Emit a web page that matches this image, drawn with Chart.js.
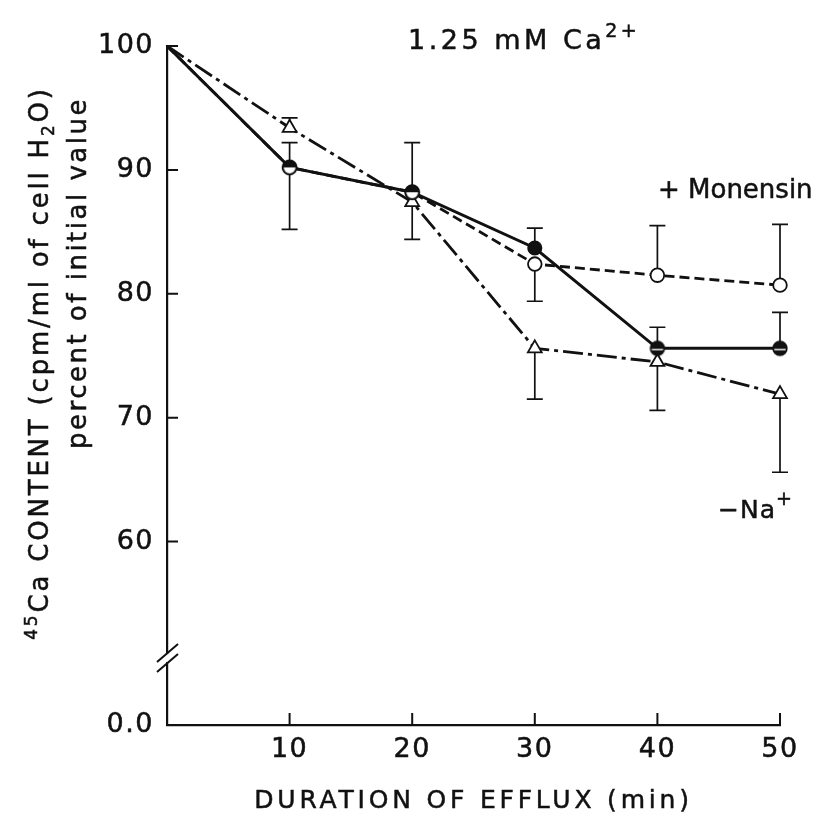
<!DOCTYPE html>
<html lang="en">
<head>
<meta charset="UTF-8">
<title>45Ca efflux</title>
<script src="https://cdn.jsdelivr.net/npm/chart.js"></script>
<style>
  html, body { margin: 0; padding: 0; background: #fff; }
</style>
</head>
<body>
<canvas id="effluxChart" width="835" height="820"></canvas>
<script>
// time of efflux (min)
const minutes = [0, 10, 20, 30, 40, 50];
// 45Ca content, percent of initial value
const control  = [100, 90.2, 88.2, 83.7, 75.6, 75.6];
const monensin = [100, 90.2, 88.2, 82.4, 81.5, 80.7];
const noSodium = [100, 93.4, 87.4, 75.6, 74.5, 71.9];
// error bar ends (null = no bar on that side)
const controlHigh  = [null, 92.2, 92.2, 85.3, 77.3, 78.5];
const controlLow   = [null, 85.2, null, null, null, null];
const monensinHigh = [null, null, null, null, 85.5, 85.6];
const monensinLow  = [null, null, null, 79.4, null, null];
const noSodiumHigh = [null, 94.2, null, null, null, null];
const noSodiumLow  = [null, null, 84.4, 71.5, 70.6, 65.6];
// axis ticks
const xTicks = [10, 20, 30, 40, 50];
const yTicks = [60, 70, 80, 90, 100];
const yBroken = 45.2;   // foot of the broken axis, labelled 0.0
const yBreakAt = 50.6;  // where the // marks sit

const INK = '#111';
const FONT = 'DejaVu Sans';

// circle markers: half = open + filled overlapping, split = filled with a thin light band
function marker(kind) {
    const c = document.createElement('canvas');
    c.width = 18; c.height = 18;
    const g = c.getContext('2d');
    const r = 6.8;
    g.translate(9, 9);
    g.beginPath(); g.arc(0, 0, r, 0, Math.PI * 2);
    g.fillStyle = kind === 'half' ? '#fff' : INK; g.fill();
    if (kind === 'half') {
        g.beginPath(); g.arc(0, 0, r, Math.PI, 0); g.closePath();
        g.fillStyle = INK; g.fill();
    }
    if (kind === 'split') { g.fillStyle = '#fff'; g.fillRect(-r, 0.6, 2 * r, 1.4); }
    g.beginPath(); g.arc(0, 0, r, 0, Math.PI * 2);
    g.lineWidth = 1.8; g.strokeStyle = INK; g.stroke();
    return c;
}
const half = marker('half');
const split = marker('split');

const pts = arr => minutes.map((m, i) => ({ x: m, y: arr[i] }));

// draw pieces of text (for super/subscripts) starting at x on a baseline
function drawParts(ctx, parts, x, y, spacing) {
    ctx.letterSpacing = spacing + 'px';
    ctx.lineWidth = 0.5;
    let cx = x;
    parts.forEach(p => {
        ctx.font = p.size + 'px "' + FONT + '"';
        ctx.fillText(p.text, cx, y + (p.dy || 0));
        ctx.strokeText(p.text, cx, y + (p.dy || 0));
        cx += ctx.measureText(p.text).width;
    });
}
function partsWidth(ctx, parts, spacing) {
    ctx.letterSpacing = spacing + 'px';
    return parts.reduce((w, p) => {
        ctx.font = p.size + 'px "' + FONT + '"';
        return w + ctx.measureText(p.text).width;
    }, 0);
}

function errorBars(ctx, xs, ys, values, ends) {
    ends.forEach((v, i) => {
        if (v == null) return;
        const px = xs.getPixelForValue(minutes[i]);
        const p0 = ys.getPixelForValue(values[i]);
        const p1 = ys.getPixelForValue(v);
        ctx.beginPath();
        ctx.moveTo(px, p0); ctx.lineTo(px, p1);
        ctx.moveTo(px - 8, p1); ctx.lineTo(px + 8, p1);
        ctx.stroke();
    });
}

const decor = {
    id: 'decor',
    beforeDraw(chart) {
        chart.ctx.letterSpacing = '1.5px';
    },
    beforeDatasetsDraw(chart) {
        const { ctx, scales: { x, y } } = chart;
        ctx.save();
        ctx.strokeStyle = INK;
        ctx.lineWidth = 1.7;
        errorBars(ctx, x, y, control, controlHigh);
        errorBars(ctx, x, y, control, controlLow);
        errorBars(ctx, x, y, monensin, monensinHigh);
        errorBars(ctx, x, y, monensin, monensinLow);
        errorBars(ctx, x, y, noSodium, noSodiumHigh);
        errorBars(ctx, x, y, noSodium, noSodiumLow);
        ctx.restore();
    },
    afterDraw(chart) {
        const { ctx, chartArea: a, scales: { x, y } } = chart;
        ctx.save();
        ctx.strokeStyle = INK;
        ctx.fillStyle = INK;
        ctx.lineWidth = 2;

        // inward tick marks
        ctx.beginPath();
        yTicks.forEach(v => {
            const py = y.getPixelForValue(v);
            ctx.moveTo(a.left, py); ctx.lineTo(a.left + 11, py);
        });
        xTicks.forEach(v => {
            const px = x.getPixelForValue(v);
            ctx.moveTo(px, a.bottom); ctx.lineTo(px, a.bottom - 12);
        });
        ctx.stroke();

        // axis break
        const by = y.getPixelForValue(yBreakAt);
        ctx.fillStyle = '#fff';
        ctx.fillRect(a.left - 3, by - 4, 6, 8);
        ctx.fillStyle = INK;
        ctx.lineWidth = 2;
        ctx.beginPath();
        [-5, 5].forEach(o => {
            ctx.moveTo(a.left - 10, by + o + 9);
            ctx.lineTo(a.left + 11, by + o - 9);
        });
        ctx.stroke();

        // labels
        ctx.textAlign = 'left';
        ctx.textBaseline = 'alphabetic';
        drawParts(ctx, [{ text: '1.25 mM Ca', size: 27 }, { text: '2+', size: 19, dy: -12 }], 408, 49, 3.5);
        drawParts(ctx, [{ text: '+ Monensin', size: 26 }], 658, 198, 0);
        drawParts(ctx, [{ text: '\u2212Na', size: 25 }, { text: '+', size: 19, dy: -13 }], 718, 518, 1);

        // x title
        const xt = [{ text: 'DURATION OF EFFLUX (min)', size: 25 }];
        drawParts(ctx, xt, (a.left + a.right) / 2 - partsWidth(ctx, xt, 3.8) / 2, 808, 3.8);

        // y title, two rotated lines
        const l1 = [
            { text: '45', size: 17, dy: -11 },
            { text: 'Ca CONTENT (cpm/ml of cell H', size: 26 },
            { text: '2', size: 17, dy: 6 },
            { text: 'O)', size: 26 }
        ];
        const l2 = [{ text: 'percent of initial value', size: 26 }];
        ctx.save();
        ctx.translate(48, 363);
        ctx.rotate(-Math.PI / 2);
        drawParts(ctx, l1, -partsWidth(ctx, l1, 2.8) / 2, 0, 2.8);
        ctx.restore();
        ctx.save();
        ctx.translate(86, 273);
        ctx.rotate(-Math.PI / 2);
        drawParts(ctx, l2, -partsWidth(ctx, l2, 2.5) / 2, 0, 2.5);
        ctx.restore();

        ctx.restore();
    }
};

new Chart(document.getElementById('effluxChart'), {
    type: 'line',
    data: {
        datasets: [
            {
                label: 'Control',
                data: pts(control),
                borderColor: INK,
                borderWidth: 3,
                pointStyle: ['circle', half, half, 'circle', split, split],
                pointRadius: [0, 6.8, 6.8, 6.8, 6.8, 6.8],
                pointBackgroundColor: INK,
                pointBorderColor: INK,
                pointBorderWidth: 1.5,
                order: 0,
                clip: false
            },
            {
                label: '+ Monensin',
                data: pts(monensin),
                borderColor: INK,
                borderWidth: 2.8,
                borderDash: [10, 5],
                pointStyle: 'circle',
                pointRadius: [0, 6.8, 6.8, 6.8, 6.8, 6.8],
                pointBackgroundColor: '#fff',
                pointBorderColor: INK,
                pointBorderWidth: 1.8,
                order: 1,
                clip: false
            },
            {
                label: '-Na+',
                data: pts(noSodium),
                borderColor: INK,
                borderWidth: 2.8,
                borderDash: [20, 5, 4, 5],
                pointStyle: 'triangle',
                pointRadius: [0, 8, 8, 8, 8, 8],
                pointBackgroundColor: '#fff',
                pointBorderColor: INK,
                pointBorderWidth: 1.8,
                order: 2,
                clip: false
            }
        ]
    },
    options: {
        responsive: false,
        animation: false,
        events: [],
        layout: { padding: { top: 46, right: 55, left: 0, bottom: 0 } },
        scales: {
            x: {
                type: 'linear',
                min: 0,
                max: 50,
                afterBuildTicks: s => { s.ticks = xTicks.map(v => ({ value: v })); },
                afterFit: s => { s.height = 95; },
                grid: { display: false, drawTicks: false },
                border: { display: true, color: INK, width: 2.2 },
                ticks: {
                    color: INK, font: { family: FONT, size: 27 }, padding: 9, maxRotation: 0,
                    textStrokeColor: INK, textStrokeWidth: 0.5
                }
            },
            y: {
                min: yBroken,
                max: 100,
                afterBuildTicks: s => { s.ticks = [yBroken, ...yTicks].map(v => ({ value: v })); },
                afterFit: s => { s.width = 167; },
                grid: { display: false, drawTicks: false },
                border: { display: true, color: INK, width: 2.2 },
                ticks: {
                    color: INK,
                    font: { family: FONT, size: 27 },
                    padding: 13,
                    textStrokeColor: INK,
                    textStrokeWidth: 0.5,
                    callback: v => v === yBroken ? '0.0' : v
                }
            }
        },
        plugins: {
            legend: { display: false },
            tooltip: { enabled: false }
        }
    },
    plugins: [decor]
});
</script>
</body>
</html>
